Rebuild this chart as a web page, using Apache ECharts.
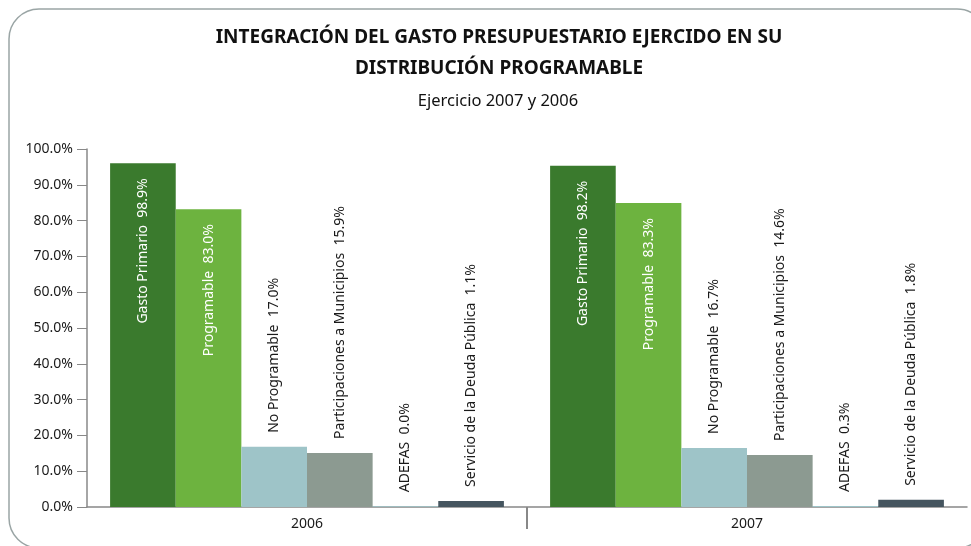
<!DOCTYPE html>
<html>
<head>
<meta charset="utf-8">
<script src="https://cdn.jsdelivr.net/npm/echarts@6/dist/echarts.min.js"></script>
<style>
  html, body { margin: 0; padding: 0; background: #fff; }
  #chart { width: 971px; height: 546px; }
</style>
</head>
<body>
<div id="chart"></div>
<script>
// categorias del eje x
const years = ['2006', '2007']
const yTicks = [0, 10, 20, 30, 40, 50, 60, 70, 80, 90, 100]

// nombres de los conceptos
const names = ['Gasto Primario', 'Programable', 'No Programable', 'Participaciones a Municipios', 'ADEFAS', 'Servicio de la Deuda Pública']

// altura de las barras como se ven en la grafica [2006, 2007]
const gastoPrimario = [96.0, 95.3]
const programable = [83.2, 84.9]
const noProgramable = [16.8, 16.5]
const participaciones = [15.1, 14.5]
const adefas = [0.2, 0.3]
const servicioDeuda = [1.7, 2.0]

// porcentajes impresos en las etiquetas [2006, 2007]
const lblGastoPrimario = ['98.9%', '98.2%']
const lblProgramable = ['83.0%', '83.3%']
const lblNoProgramable = ['17.0%', '16.7%']
const lblParticipaciones = ['15.9%', '14.6%']
const lblAdefas = ['0.0%', '0.3%']
const lblServicioDeuda = ['1.1%', '1.8%']

const values = [gastoPrimario, programable, noProgramable, participaciones, adefas, servicioDeuda]
const labels = [lblGastoPrimario, lblProgramable, lblNoProgramable, lblParticipaciones, lblAdefas, lblServicioDeuda]
const colors = ['#3a7a2d', '#6db33f', '#9ec4c8', '#8c9a91', '#9ec4c8', '#45555f']
const inside = [true, true, false, false, false, false]

const font = "'Noto Sans', 'Open Sans', sans-serif"

const chart = echarts.init(document.getElementById('chart'))

const series = names.map(function (name, i) {
  return {
    name: name,
    type: 'bar',
    barGap: '0%',
    barCategoryGap: '10.5%',
    data: values[i],
    itemStyle: { color: colors[i] },
    label: {
      show: true,
      rotate: 90,
      position: inside[i] ? 'insideTop' : 'top',
      align: inside[i] ? 'right' : 'left',
      verticalAlign: 'middle',
      distance: inside[i] ? 15 : 14,
      color: inside[i] ? '#ffffff' : '#1a1a1a',
      fontFamily: font,
      fontSize: 14,
      formatter: function (p) {
        return name + '  ' + labels[i][p.dataIndex]
      }
    }
  }
})

const option = {
  animation: false,
  backgroundColor: '#ffffff',
  title: [
    {
      text: 'INTEGRACIÓN DEL GASTO PRESUPUESTARIO EJERCIDO EN SU\nDISTRIBUCIÓN PROGRAMABLE',
      left: 494,
      textAlign: 'center',
      top: 17,
      textStyle: {
        fontFamily: font,
        fontWeight: 'bold',
        fontSize: 19,
        lineHeight: 31,
        color: '#111'
      }
    },
    {
      text: 'Ejercicio 2007 y 2006',
      left: 493,
      textAlign: 'center',
      top: 88,
      textStyle: {
        fontFamily: font,
        fontWeight: 'normal',
        fontSize: 16.5,
        color: '#111'
      }
    }
  ],
  graphic: [
    {
      type: 'rect',
      shape: { x: 9, y: 9, width: 978, height: 539, r: 30 },
      style: { fill: 'none', stroke: '#9aa5a5', lineWidth: 1.5 },
      silent: true
    }
  ],
  grid: { left: 87, right: 4, top: 149, bottom: 39 },
  xAxis: {
    type: 'category',
    data: years,
    axisLine: { lineStyle: { color: '#888', width: 1.5 } },
    axisTick: { show: false },
    axisLabel: { color: '#1a1a1a', fontFamily: font, fontSize: 14, margin: 10 }
  },
  yAxis: {
    type: 'value',
    min: yTicks[0],
    max: yTicks[yTicks.length - 1],
    interval: 10,
    splitLine: { show: false },
    axisLine: { show: true, lineStyle: { color: '#888', width: 1.5 } },
    axisTick: { show: true, length: 10, lineStyle: { color: '#888' } },
    axisLabel: {
      color: '#1a1a1a',
      fontFamily: font,
      fontSize: 14,
      margin: 14,
      formatter: function (v) { return v.toFixed(1) + '%' }
    }
  },
  series: series
}

chart.setOption(option)

// separador entre los dos años, calculado desde el eje
const xa = chart.convertToPixel({ xAxisIndex: 0 }, years[0])
const xb = chart.convertToPixel({ xAxisIndex: 0 }, years[1])
const y0 = chart.convertToPixel({ yAxisIndex: 0 }, 0)
const xMid = Math.round((xa + xb) / 2)
chart.setOption({
  graphic: [
    {
      type: 'rect',
      shape: { x: 9, y: 9, width: 978, height: 539, r: 30 },
      style: { fill: 'none', stroke: '#9aa5a5', lineWidth: 1.5 },
      silent: true
    },
    {
      type: 'line',
      shape: { x1: xMid, y1: y0, x2: xMid, y2: y0 + 22 },
      style: { stroke: '#888', lineWidth: 2 },
      silent: true
    }
  ]
})
</script>
</body>
</html>
